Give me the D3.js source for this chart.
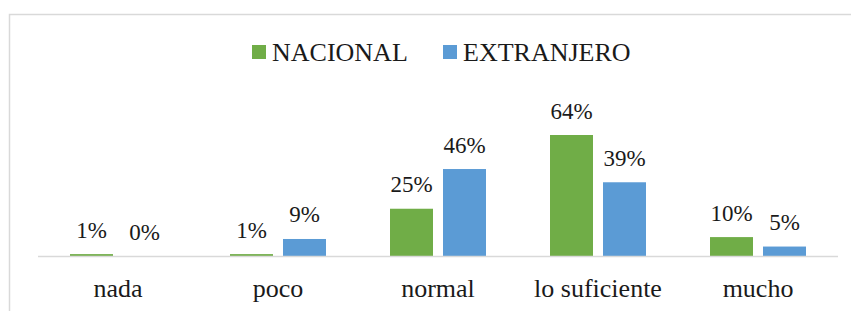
<!DOCTYPE html>
<html><head><meta charset="utf-8">
<script src="https://cdn.jsdelivr.net/npm/d3@7/dist/d3.min.js"></script>
</head><body style="margin:0">
<script>
const categories = ["nada", "poco", "normal", "lo suficiente", "mucho"];
const seriesNames = ["NACIONAL", "EXTRANJERO"];
const nacional = [1, 1, 25, 64, 10];
const extranjero = [0, 9, 46, 39, 5];
const seriesColors = ["#70ad47", "#5b9bd5"];

const W = 851, H = 311;
const svg = d3.select("body").append("svg").attr("width", W).attr("height", H)
  .attr("style", "display:block");

// chart border
svg.append("rect").attr("x", 9.5).attr("y", 14.5).attr("width", 900).attr("height", 400)
  .attr("fill", "none").attr("stroke", "#d9d9d9").attr("stroke-width", 1.5);

const x0 = d3.scaleBand().domain(categories).range([38, 838]);
const x1 = d3.scaleBand().domain(seriesNames).range([32, 128]).paddingInner(10/53);
const y = d3.scaleLinear().domain([0, 64]).range([256, 135]);

const data = categories.map((c, i) => ({cat: c, vals: [nacional[i], extranjero[i]]}));

const g = svg.append("g");
const groups = g.selectAll("g.cat").data(data).join("g")
  .attr("transform", d => `translate(${x0(d.cat)},0)`);

groups.selectAll("rect").data(d => d.vals.map((v, j) => ({v, s: seriesNames[j], j})))
  .join("rect")
  .attr("x", d => x1(d.s)).attr("width", x1.bandwidth())
  .attr("y", d => y(d.v)).attr("height", d => y(0) - y(d.v))
  .attr("fill", d => seriesColors[d.j]);

groups.selectAll("text.val").data(d => d.vals.map((v, j) => ({v, s: seriesNames[j], j})))
  .join("text").attr("class", "val")
  .attr("x", d => x1(d.s) + x1.bandwidth() / 2)
  .attr("y", d => y(d.v) - 16.5)
  .attr("text-anchor", "middle")
  .attr("fill", "#1a1a1a")
  .attr("style", 'font-family:"Liberation Serif";font-size:23px')
  .text(d => d.v + "%");

// baseline axis
g.append("line").attr("x1", 38).attr("x2", 838).attr("y1", y(0) + 0.5).attr("y2", y(0) + 0.5)
  .attr("stroke", "#d9d9d9").attr("stroke-width", 1.5);

// category labels
const xAxis = d3.axisBottom(x0).tickSize(0).tickPadding(0);
const ax = svg.append("g").attr("transform", `translate(0,${y(0)})`).call(xAxis);
ax.select(".domain").remove();
ax.attr("font-family", null).attr("font-size", null);
ax.selectAll("text")
  .attr("dy", null).attr("y", 41).attr("fill", "#1a1a1a")
  .attr("style", 'font-family:"Liberation Serif";font-size:26px');

// legend
const legend = svg.append("g");
const legX = [252, 443];
seriesNames.forEach((s, i) => {
  legend.append("rect").attr("x", legX[i]).attr("y", 45).attr("width", 14).attr("height", 14)
    .attr("fill", seriesColors[i]);
  legend.append("text").attr("x", legX[i] + 20).attr("y", 61)
    .attr("fill", "#1a1a1a")
    .attr("style", 'font-family:"Liberation Serif";font-size:26px')
    .text(s);
});
</script>
</body></html>
